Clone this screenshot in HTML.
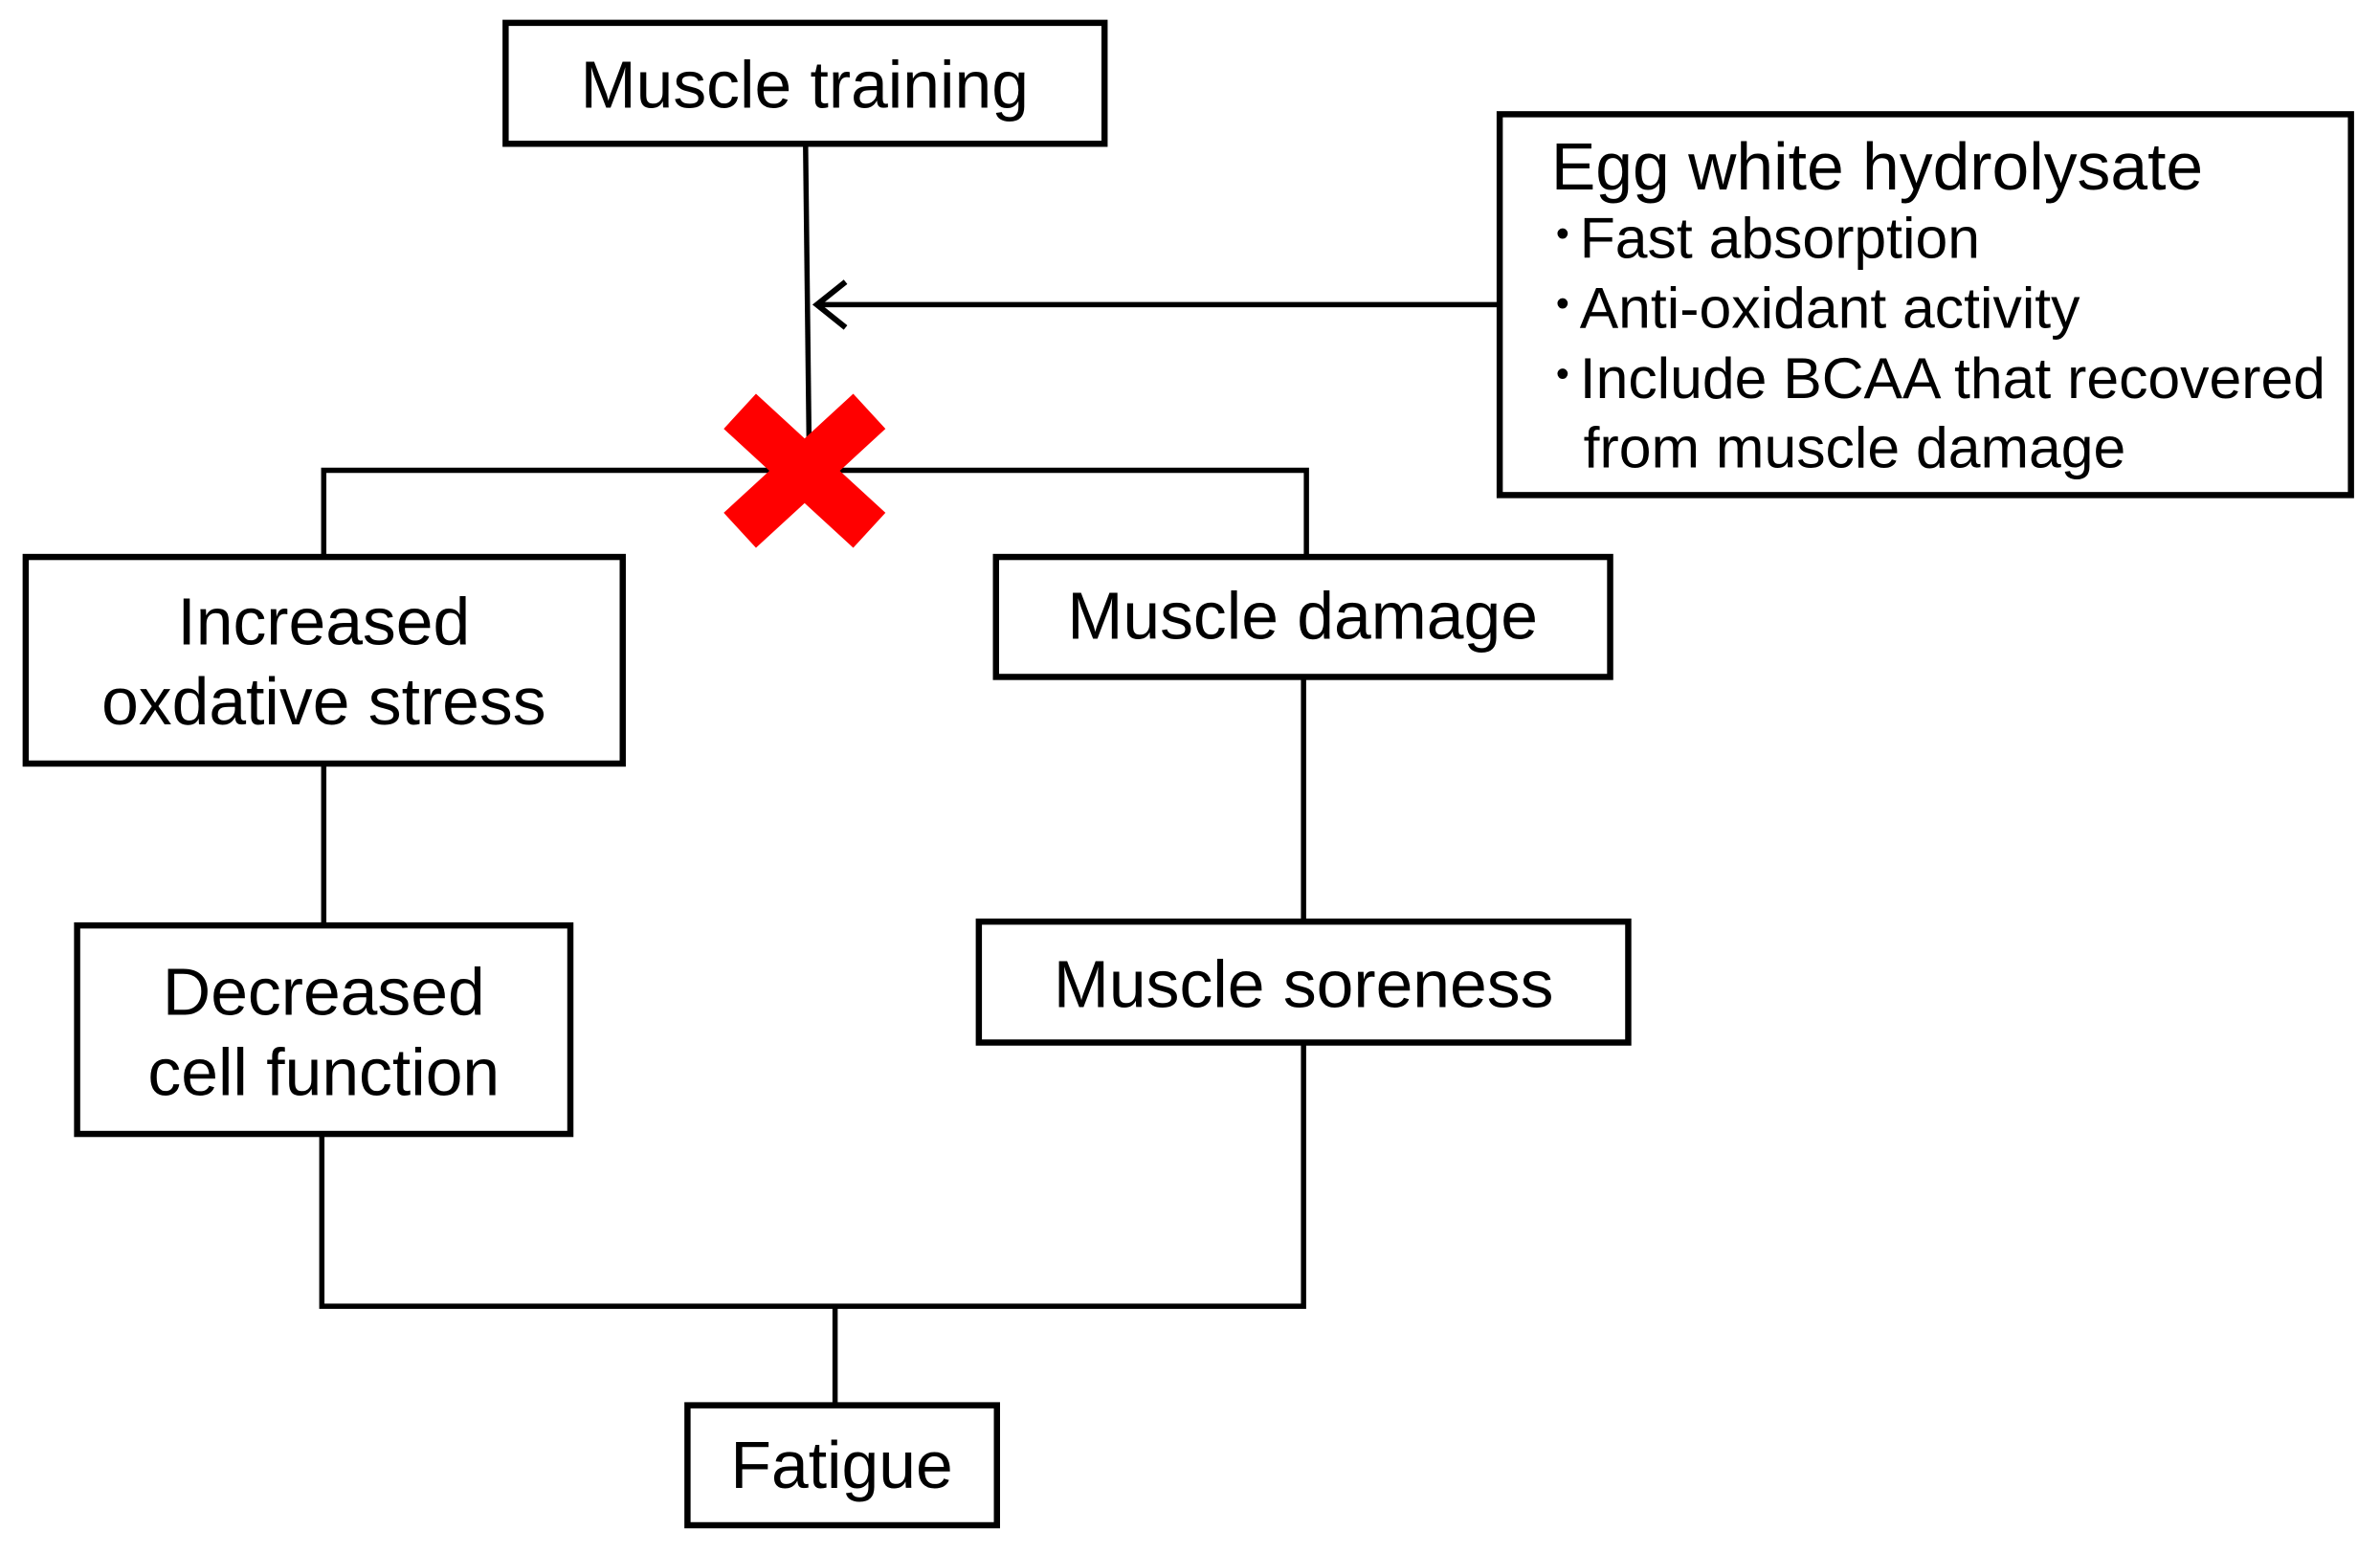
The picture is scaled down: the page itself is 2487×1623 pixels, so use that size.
<!DOCTYPE html>
<html><head><style>
html,body{margin:0;padding:0;background:#fff;}
svg{display:block;}
text{font-family:"Liberation Sans",Arial,sans-serif;fill:#000;}
</style></head><body>
<svg width="2487" height="1623" viewBox="0 0 2487 1623" xmlns="http://www.w3.org/2000/svg">
<g transform="scale(0.995)">
<g fill="none" stroke="#000" stroke-width="5.5">
<line x1="846" y1="151" x2="850" y2="494"/>
<line x1="858" y1="320" x2="1575" y2="320"/>
<polyline points="888,296 858,320 888,344" stroke-width="6"/>
<polyline points="340,585 340,494 1372,494 1372,585"/>
<line x1="340" y1="802" x2="340" y2="972"/>
<line x1="1369" y1="711" x2="1369" y2="968"/>
<polyline points="338,1191 338,1372 1369,1372 1369,1095"/>
<line x1="877" y1="1372" x2="877" y2="1476"/>
<rect x="531" y="24" width="629" height="127" stroke-width="6.5"/>
<rect x="1575" y="120" width="894" height="400" stroke-width="6.5"/>
<rect x="27" y="585" width="627" height="217" stroke-width="6.5"/>
<rect x="1046" y="585" width="645" height="126" stroke-width="6.5"/>
<rect x="81" y="972" width="518" height="219" stroke-width="6.5"/>
<rect x="1028" y="968" width="682" height="127" stroke-width="6.5"/>
<rect x="722" y="1476" width="325" height="126" stroke-width="6.5"/>
</g>
<g stroke="#f00" stroke-width="50">
<line x1="777" y1="432" x2="913" y2="557"/>
<line x1="913" y1="432" x2="777" y2="557"/>
</g>
<g font-size="70" text-anchor="middle">
<text x="845" y="113">Muscle training</text>
<text x="340" y="677">Increased</text>
<text x="340" y="761">oxdative stress</text>
<text x="1368" y="671">Muscle damage</text>
<text x="340" y="1066">Decreased</text>
<text x="340" y="1150">cell function</text>
<text x="1369" y="1058">Muscle soreness</text>
<text x="884" y="1563">Fatigue</text>
</g>
<text x="1629" y="199" font-size="70">Egg white hydrolysate</text>
<g font-size="61">
<text x="1634" y="271"><tspan font-size="40" dy="-12">•</tspan><tspan x="1659" dy="12">Fast absorption</tspan></text>
<text x="1634" y="344"><tspan font-size="40" dy="-12">•</tspan><tspan x="1659" dy="12">Anti-oxidant activity</tspan></text>
<text x="1634" y="418"><tspan font-size="40" dy="-12">•</tspan><tspan x="1659" dy="12">Include BCAA that recovered</tspan></text>
<text x="1663" y="491">from muscle damage</text>
</g>
</g>
</svg>
</body></html>
